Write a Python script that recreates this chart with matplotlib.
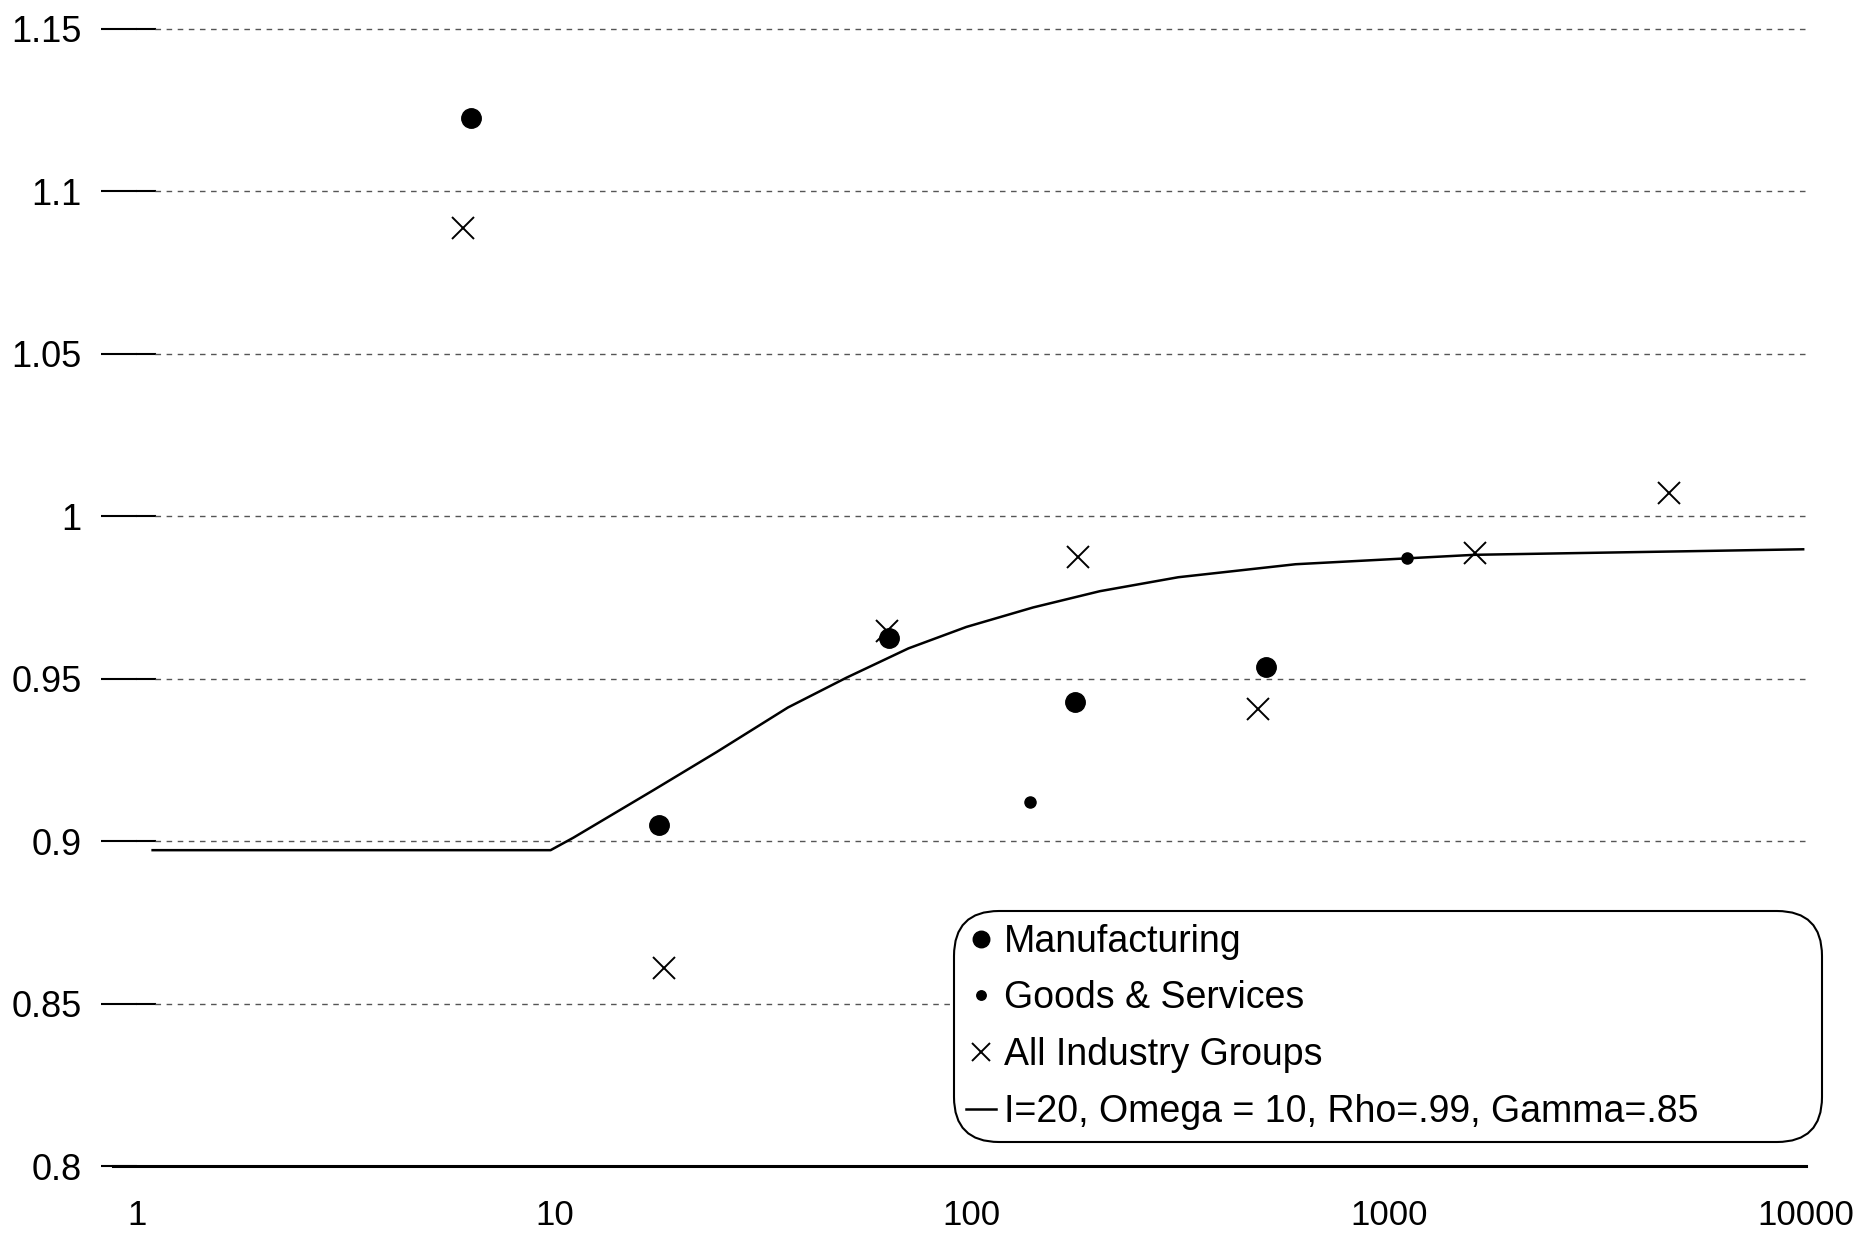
import matplotlib
matplotlib.use('Agg')
import matplotlib.pyplot as plt

# --- DATA ---
manuf_x = [6.3, 17.8, 63.5, 177, 508]
manuf_y = [1.1226, 0.905, 0.9625, 0.9427, 0.9537]

goods_x = [138, 1104]
goods_y = [0.912, 0.9872]

all_x = [6.06, 18.3, 62.8, 180, 485, 1606, 4693]
all_y = [1.0888, 0.861, 0.9647, 0.9875, 0.9405, 0.9886, 1.0072]

model_x = [1.09, 9.8, 11.1, 17.3, 24.5, 36.3, 50.0, 70.6, 97.2, 140.5, 203, 313,
           598, 1101, 1606, 3039, 5213, 9844]
model_y = [0.8972, 0.8972, 0.9010, 0.9157, 0.9274, 0.9411, 0.9502, 0.9593, 0.9659,
           0.9719, 0.9769, 0.9812, 0.9852, 0.9870, 0.9881, 0.9887, 0.9892, 0.9898]

y_ticks = [0.8, 0.85, 0.9, 0.95, 1.0, 1.05, 1.1, 1.15]
y_labels = ['0.8', '0.85', '0.9', '0.95', '1', '1.05', '1.1', '1.15']
x_ticks = [1, 10, 100, 1000, 10000]
x_labels = ['1', '10', '100', '1000', '10000']

plt.rcParams['font.family'] = ['Liberation Sans', 'DejaVu Sans']

fig = plt.figure(figsize=(18.69, 12.5), dpi=100)
ax = fig.add_axes([0.0733, 0.0672, 0.893, 0.9098])

ax.set_xscale('log')
ax.set_xlim(1, 10000)
ax.set_ylim(0.8, 1.15)

grid_start = 0.0107
for yv in y_ticks[1:]:
    # inner solid stub of the tick mark, then the dashed gridline
    ax.axhline(yv, xmin=0, xmax=grid_start, color='black', lw=1.5, zorder=1, clip_on=False)
    ax.axhline(yv, xmin=grid_start, xmax=1.0, color='#555555', lw=1.0, ls=(0, (4, 4)),
               zorder=1, clip_on=False)
# solid base line
ax.axhline(0.8, xmin=-0.0144, xmax=1.0, color='black', lw=2.2, clip_on=False, zorder=2)

ax.plot(manuf_x, manuf_y, 'o', color='black', markersize=14, label='Manufacturing', zorder=4)
ax.plot(goods_x, goods_y, 'o', color='black', markersize=8, label='Goods & Services', zorder=4)
ax.plot(all_x, all_y, 'x', color='black', markersize=16, markeredgewidth=1.4,
        label='All Industry Groups', zorder=4)
ax.plot(model_x, model_y, '-', color='black', lw=1.8,
        label='I=20, Omega = 10, Rho=.99, Gamma=.85', zorder=3)

for s in ax.spines.values():
    s.set_visible(False)

ax.set_yticks(y_ticks)
ax.set_yticklabels(y_labels)
ax.set_xticks(x_ticks)
ax.set_xticklabels(x_labels)
ax.minorticks_off()
ax.tick_params(axis='y', direction='out', length=26, width=1.5, pad=14, labelsize=26)
ax.tick_params(axis='x', length=0, pad=24, labelsize=25)

leg = ax.legend(loc='lower left', bbox_to_anchor=(0.4895, 0.021, 0.52, 0.2), mode='expand',
                fontsize=27, frameon=True, fancybox=True, handlelength=0.8,
                handletextpad=0.2, borderaxespad=0, borderpad=0.33, labelspacing=0.55,
                markerscale=0.85)
frame = leg.get_frame()
frame.set_edgecolor('black')
frame.set_linewidth(1.5)
frame.set_alpha(1)
frame.set_boxstyle('round,pad=0,rounding_size=1.2')

fig.savefig('out.png', dpi=100)
